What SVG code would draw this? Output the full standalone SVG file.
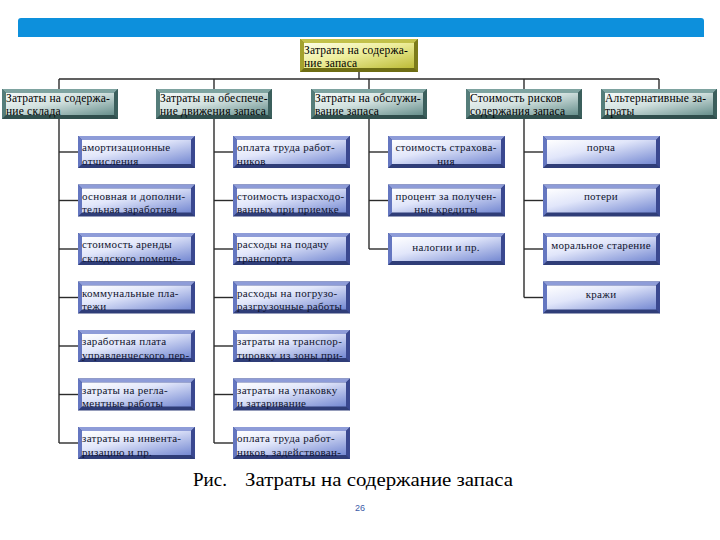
<svg xmlns="http://www.w3.org/2000/svg" width="720" height="540" viewBox="0 0 720 540">
<defs>
  <linearGradient id="gBlue" x1="0" y1="0" x2="1" y2="1">
    <stop offset="0" stop-color="#ffffff"/>
    <stop offset="0.4" stop-color="#e1e6fa"/>
    <stop offset="1" stop-color="#7589d2"/>
  </linearGradient>
  <linearGradient id="gTeal" x1="0" y1="0" x2="1" y2="1">
    <stop offset="0" stop-color="#f6faf9"/>
    <stop offset="0.45" stop-color="#d2e1df"/>
    <stop offset="1" stop-color="#678f8c"/>
  </linearGradient>
  <linearGradient id="gOlive" x1="0" y1="0" x2="1" y2="1">
    <stop offset="0" stop-color="#fefee6"/>
    <stop offset="0.45" stop-color="#eeee9c"/>
    <stop offset="1" stop-color="#bdbc38"/>
  </linearGradient>
  <symbol id="bbox" overflow="visible">
    <rect x="0" y="0" width="117" height="32" fill="#2f3d78"/>
    <polygon points="0,0 117,0 113,4 4,4" fill="#8e9cd8"/>
    <polygon points="0,0 4,4 4,28 0,32" fill="#6476c0"/>
    <polygon points="117,0 117,32 113,28 113,4" fill="#3a4890"/>
    <rect x="4" y="4" width="109" height="24" fill="url(#gBlue)"/>
  </symbol>
  <symbol id="tbox" overflow="visible">
    <rect x="0" y="0" width="116" height="30" fill="#304f4d"/>
    <polygon points="0,0 116,0 112,4 4,4" fill="#7ea3a0"/>
    <polygon points="0,0 4,4 4,26 0,30" fill="#557d7a"/>
    <polygon points="116,0 116,30 112,26 112,4" fill="#3b5f5c"/>
    <rect x="4" y="4" width="108" height="22" fill="url(#gTeal)"/>
  </symbol>
  <symbol id="obox" overflow="visible">
    <rect x="0" y="0" width="118" height="33" fill="#6e6d14"/>
    <polygon points="0,0 118,0 114,4 4,4" fill="#c2c14a"/>
    <polygon points="0,0 4,4 4,29 0,33" fill="#a3a22e"/>
    <polygon points="118,0 118,33 114,29 114,4" fill="#7c7b1a"/>
    <rect x="4" y="4" width="110" height="25" fill="url(#gOlive)"/>
  </symbol>
</defs>
<style>
  text { font-family: "Liberation Serif", serif; }
  .t { font-size: 11.5px; fill: #000; letter-spacing: 0.2px; }
  .b { font-size: 11px; fill: #10142e; letter-spacing: 0.3px; }
  .c { text-anchor: middle; }
  .conn line { stroke: #2b2b2b; stroke-width: 1.4; }
  .cap { font-size: 19px; fill: #000; }
  .pg { font-family: "Liberation Sans", sans-serif; font-size: 9px; fill: #3b5ba8; text-anchor: middle; }
</style>

<path id="topbar" d="M18,37 V21 Q18,18 21,18 H701 Q704,18 704,21 V37 Z" fill="#0d90dc"/>

<g id="connectors" class="conn">
  <line x1="359" y1="72" x2="359" y2="79"/>
  <line x1="59" y1="79" x2="659" y2="79"/>
  <line x1="59" y1="79" x2="59" y2="89"/>
  <line x1="214" y1="79" x2="214" y2="89"/>
  <line x1="369" y1="79" x2="369" y2="89"/>
  <line x1="524" y1="79" x2="524" y2="89"/>
  <line x1="659" y1="79" x2="659" y2="89"/>
  <line x1="59" y1="119" x2="59" y2="443"/>
  <line x1="214" y1="119" x2="214" y2="443"/>
  <line x1="369" y1="119" x2="369" y2="249"/>
  <line x1="524" y1="119" x2="524" y2="297.5"/>
  <line x1="59" y1="152" x2="78" y2="152"/>
  <line x1="59" y1="200.5" x2="78" y2="200.5"/>
  <line x1="59" y1="249" x2="78" y2="249"/>
  <line x1="59" y1="297.5" x2="78" y2="297.5"/>
  <line x1="59" y1="346" x2="78" y2="346"/>
  <line x1="59" y1="394.5" x2="78" y2="394.5"/>
  <line x1="59" y1="443" x2="78" y2="443"/>
  <line x1="214" y1="152" x2="233" y2="152"/>
  <line x1="214" y1="200.5" x2="233" y2="200.5"/>
  <line x1="214" y1="249" x2="233" y2="249"/>
  <line x1="214" y1="297.5" x2="233" y2="297.5"/>
  <line x1="214" y1="346" x2="233" y2="346"/>
  <line x1="214" y1="394.5" x2="233" y2="394.5"/>
  <line x1="214" y1="443" x2="233" y2="443"/>
  <line x1="369" y1="152" x2="388" y2="152"/>
  <line x1="369" y1="200.5" x2="388" y2="200.5"/>
  <line x1="369" y1="249" x2="388" y2="249"/>
  <line x1="524" y1="152" x2="543" y2="152"/>
  <line x1="524" y1="200.5" x2="543" y2="200.5"/>
  <line x1="524" y1="249" x2="543" y2="249"/>
  <line x1="524" y1="297.5" x2="543" y2="297.5"/>
</g>

<g id="root" transform="translate(300,39)">
  <use href="#obox"/>
  <text class="t" x="4" y="15">Затраты на содержа-</text>
  <text class="t" x="4" y="28">ние запаса</text>
</g>

<g id="l1-1" transform="translate(2,89)">
  <use href="#tbox"/>
  <text class="t" x="4" y="13">Затраты на содержа-</text>
  <text class="t" x="4" y="26">ние склада</text>
</g>
<g id="l1-2" transform="translate(156,89)">
  <use href="#tbox"/>
  <text class="t" x="4" y="13">Затраты на обеспече-</text>
  <text class="t" x="4" y="26">ние движения запаса</text>
</g>
<g id="l1-3" transform="translate(311,89)">
  <use href="#tbox"/>
  <text class="t" x="4" y="13">Затраты на обслужи-</text>
  <text class="t" x="4" y="26">вание запаса</text>
</g>
<g id="l1-4" transform="translate(466,89)">
  <use href="#tbox"/>
  <text class="t" x="4" y="13">Стоимость рисков</text>
  <text class="t" x="4" y="26">содержания запаса</text>
</g>
<g id="l1-5" transform="translate(601,89)">
  <use href="#tbox"/>
  <text class="t" x="4" y="13">Альтернативные за-</text>
  <text class="t" x="4" y="26">траты</text>
</g>

<g id="c1-1" transform="translate(78,136)"><use href="#bbox"/>
  <text class="b" x="4" y="15">амортизационные</text><text class="b" x="4" y="28.5">отчисления</text></g>
<g id="c1-2" transform="translate(78,184.5)"><use href="#bbox"/>
  <text class="b" x="4" y="15">основная и дополни-</text><text class="b" x="4" y="28.5">тельная заработная</text></g>
<g id="c1-3" transform="translate(78,233)"><use href="#bbox"/>
  <text class="b" x="4" y="15">стоимость аренды</text><text class="b" x="4" y="28.5">складского помеще-</text></g>
<g id="c1-4" transform="translate(78,281.5)"><use href="#bbox"/>
  <text class="b" x="4" y="15">коммунальные пла-</text><text class="b" x="4" y="28.5">тежи</text></g>
<g id="c1-5" transform="translate(78,330)"><use href="#bbox"/>
  <text class="b" x="4" y="15">заработная плата</text><text class="b" x="4" y="28.5">управленческого пер-</text></g>
<g id="c1-6" transform="translate(78,378.5)"><use href="#bbox"/>
  <text class="b" x="4" y="15">затраты на регла-</text><text class="b" x="4" y="28.5">ментные работы</text></g>
<g id="c1-7" transform="translate(78,427)"><use href="#bbox"/>
  <text class="b" x="4" y="15">затраты на инвента-</text><text class="b" x="4" y="28.5">ризацию и пр.</text></g>

<g id="c2-1" transform="translate(233,136)"><use href="#bbox"/>
  <text class="b" x="4" y="15">оплата труда работ-</text><text class="b" x="4" y="28.5">ников</text></g>
<g id="c2-2" transform="translate(233,184.5)"><use href="#bbox"/>
  <text class="b" x="4" y="15">стоимость израсходо-</text><text class="b" x="4" y="28.5">ванных при приемке</text></g>
<g id="c2-3" transform="translate(233,233)"><use href="#bbox"/>
  <text class="b" x="4" y="15">расходы на подачу</text><text class="b" x="4" y="28.5">транспорта</text></g>
<g id="c2-4" transform="translate(233,281.5)"><use href="#bbox"/>
  <text class="b" x="4" y="15">расходы на погрузо-</text><text class="b" x="4" y="28.5">разгрузочные работы</text></g>
<g id="c2-5" transform="translate(233,330)"><use href="#bbox"/>
  <text class="b" x="4" y="15">затраты на транспор-</text><text class="b" x="4" y="28.5">тировку из зоны при-</text></g>
<g id="c2-6" transform="translate(233,378.5)"><use href="#bbox"/>
  <text class="b" x="4" y="15">затраты на упаковку</text><text class="b" x="4" y="28.5">и затаривание</text></g>
<g id="c2-7" transform="translate(233,427)"><use href="#bbox"/>
  <text class="b" x="4" y="15">оплата труда работ-</text><text class="b" x="4" y="28.5">ников, задействован-</text></g>

<g id="c3-1" transform="translate(388,136)"><use href="#bbox"/>
  <text class="b c" x="58" y="15">стоимость страхова-</text><text class="b c" x="58" y="28.5">ния</text></g>
<g id="c3-2" transform="translate(388,184.5)"><use href="#bbox"/>
  <text class="b c" x="58" y="15">процент за получен-</text><text class="b c" x="58" y="28.5">ные кредиты</text></g>
<g id="c3-3" transform="translate(388,233)"><use href="#bbox"/>
  <text class="b c" x="58" y="18">налогии и пр.</text></g>

<g id="c4-1" transform="translate(543,136)"><use href="#bbox"/>
  <text class="b c" x="58" y="15">порча</text></g>
<g id="c4-2" transform="translate(543,184.5)"><use href="#bbox"/>
  <text class="b c" x="58" y="15">потери</text></g>
<g id="c4-3" transform="translate(543,233)"><use href="#bbox"/>
  <text class="b c" x="58" y="16">моральное старение</text></g>
<g id="c4-4" transform="translate(543,281.5)"><use href="#bbox"/>
  <text class="b c" x="58" y="16">кражи</text></g>

<g id="caption">
  <text class="cap" x="193" y="486">Рис.</text>
  <text class="cap" x="245" y="486" textLength="268" lengthAdjust="spacingAndGlyphs">Затраты на содержание запаса</text>
  <text class="pg" x="360" y="511">26</text>
</g>
</svg>
